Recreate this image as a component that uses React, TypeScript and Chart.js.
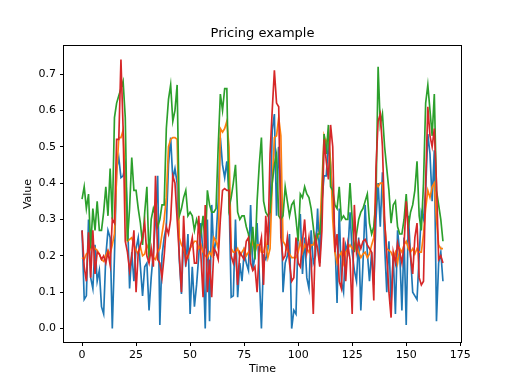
import React, { useEffect, useRef } from "react";
import { Chart, registerables } from "chart.js";

Chart.register(...registerables);

const title = "Pricing example";
const xLabel = "Time";
const yLabel = "Value";
const xTicks = [0, 25, 50, 75, 100, 125, 150, 175];
const yTicks = [0.0, 0.1, 0.2, 0.3, 0.4, 0.5, 0.6, 0.7];

const blue = [
  0.27, 0.08, 0.09, 0.30, 0.14, 0.11, 0.23, 0.13, 0.16, 0.06,
  0.04, 0.20, 0.27, 0.25, 0.00, 0.20, 0.44, 0.47, 0.415, 0.42,
  0.45, 0.31, 0.11, 0.21, 0.13, 0.22, 0.25, 0.17, 0.09, 0.17,
  0.18, 0.05, 0.14, 0.21, 0.30, 0.42, 0.01, 0.20, 0.25, 0.28,
  0.45, 0.525, 0.41, 0.44, 0.40, 0.19, 0.095, 0.25, 0.17, 0.26,
  0.04, 0.17, 0.06, 0.12, 0.20, 0.29, 0.20, 0.00, 0.30, 0.02,
  0.34, 0.20, 0.25, 0.35, 0.525, 0.45, 0.415, 0.46, 0.37, 0.086,
  0.09, 0.30, 0.086, 0.18, 0.13, 0.21, 0.18, 0.16, 0.34, 0.16,
  0.20, 0.29, 0.15, 0.00, 0.20, 0.19, 0.22, 0.30, 0.545, 0.59,
  0.31, 0.50, 0.38, 0.10, 0.18, 0.20, 0.26, 0.00, 0.05, 0.04,
  0.27, 0.315, 0.15, 0.25, 0.14, 0.11, 0.27, 0.18, 0.20, 0.33,
  0.18, 0.35, 0.42, 0.42, 0.51, 0.45, 0.36, 0.25, 0.07, 0.33,
  0.13, 0.10, 0.23, 0.21, 0.32, 0.21, 0.16, 0.13, 0.25, 0.05,
  0.18, 0.34, 0.21, 0.13, 0.21, 0.12, 0.30, 0.40, 0.28, 0.43,
  0.23, 0.10, 0.24, 0.07, 0.20, 0.04, 0.27, 0.21, 0.05, 0.25,
  0.01, 0.31, 0.20, 0.10, 0.09, 0.08, 0.20, 0.32, 0.30, 0.38,
  0.535, 0.48, 0.35, 0.49, 0.02, 0.18, 0.21, 0.13,
];

const orange = [
  0.195, 0.19, 0.205, 0.21, 0.22, 0.23, 0.22, 0.215, 0.205, 0.19,
  0.185, 0.20, 0.215, 0.205, 0.23, 0.26, 0.42, 0.525, 0.525, 0.545,
  0.40, 0.24, 0.245, 0.25, 0.23, 0.215, 0.205, 0.225, 0.20, 0.205,
  0.23, 0.215, 0.205, 0.195, 0.19, 0.21, 0.22, 0.26, 0.30, 0.36,
  0.50, 0.52, 0.525, 0.525, 0.52, 0.25, 0.23, 0.22, 0.20, 0.195,
  0.22, 0.23, 0.24, 0.24, 0.22, 0.23, 0.21, 0.20, 0.195, 0.21,
  0.20, 0.25, 0.24, 0.22, 0.55, 0.54, 0.55, 0.57, 0.50, 0.22,
  0.21, 0.21, 0.22, 0.20, 0.21, 0.22, 0.20, 0.21, 0.22, 0.24,
  0.21, 0.23, 0.23, 0.21, 0.21, 0.24, 0.195, 0.22, 0.40, 0.525,
  0.53, 0.58, 0.53, 0.24, 0.23, 0.215, 0.205, 0.195, 0.195, 0.195,
  0.21, 0.24, 0.21, 0.23, 0.22, 0.21, 0.23, 0.23, 0.25, 0.25,
  0.27, 0.40, 0.53, 0.51, 0.53, 0.46, 0.30, 0.21, 0.18, 0.20,
  0.21, 0.18, 0.21, 0.22, 0.23, 0.22, 0.215, 0.23, 0.21, 0.195,
  0.205, 0.21, 0.195, 0.205, 0.23, 0.25, 0.40, 0.39, 0.40, 0.40,
  0.29, 0.22, 0.215, 0.21, 0.195, 0.21, 0.18, 0.22, 0.21, 0.23,
  0.24, 0.22, 0.21, 0.22, 0.205, 0.22, 0.21, 0.21, 0.26, 0.33,
  0.38, 0.36, 0.39, 0.40, 0.30, 0.23, 0.22, 0.22,
];

const green = [
  0.356, 0.39, 0.33, 0.37, 0.22, 0.33, 0.27, 0.35, 0.27, 0.27,
  0.32, 0.39, 0.31, 0.44, 0.30, 0.58, 0.62, 0.64, 0.66, 0.68,
  0.58, 0.24, 0.33, 0.47, 0.38, 0.38, 0.33, 0.29, 0.23, 0.32,
  0.39, 0.19, 0.30, 0.33, 0.31, 0.28, 0.30, 0.34, 0.34, 0.55,
  0.63, 0.67, 0.57, 0.60, 0.67, 0.31, 0.33, 0.36, 0.38, 0.31,
  0.32, 0.31, 0.27, 0.30, 0.28, 0.26, 0.31, 0.22, 0.38, 0.34,
  0.32, 0.32, 0.33, 0.50, 0.645, 0.60, 0.66, 0.66, 0.33, 0.36,
  0.40, 0.45, 0.32, 0.30, 0.31, 0.31, 0.28, 0.26, 0.21, 0.28,
  0.19, 0.35, 0.45, 0.525, 0.35, 0.32, 0.31, 0.32, 0.40, 0.45,
  0.48, 0.31, 0.30, 0.31, 0.39, 0.35, 0.31, 0.34, 0.35, 0.30,
  0.24, 0.37, 0.36, 0.39, 0.37, 0.36, 0.33, 0.28, 0.22, 0.26,
  0.26, 0.33, 0.535, 0.48, 0.56, 0.39, 0.38, 0.34, 0.33, 0.39,
  0.30, 0.31, 0.30, 0.30, 0.40, 0.30, 0.21, 0.26, 0.30, 0.32,
  0.33, 0.35, 0.37, 0.29, 0.26, 0.28, 0.35, 0.72, 0.56, 0.59,
  0.50, 0.44, 0.38, 0.29, 0.34, 0.35, 0.28, 0.26, 0.26, 0.30,
  0.37, 0.28, 0.32, 0.34, 0.38, 0.46, 0.31, 0.27, 0.40, 0.62,
  0.67, 0.60, 0.53, 0.645, 0.38, 0.34, 0.30, 0.24,
];

const red = [
  0.27, 0.17, 0.13, 0.265, 0.14, 0.27, 0.15, 0.21, 0.205, 0.19,
  0.20, 0.18, 0.21, 0.175, 0.30, 0.29, 0.52, 0.52, 0.74, 0.55,
  0.24, 0.21, 0.16, 0.20, 0.27, 0.10, 0.21, 0.23, 0.25, 0.29,
  0.20, 0.18, 0.22, 0.17, 0.42, 0.19, 0.18, 0.14, 0.20, 0.28,
  0.26, 0.30, 0.42, 0.40, 0.30, 0.20, 0.10, 0.31, 0.18, 0.20,
  0.22, 0.25, 0.18, 0.18, 0.31, 0.20, 0.086, 0.34, 0.10, 0.19,
  0.086, 0.22, 0.21, 0.19, 0.30, 0.38, 0.385, 0.38, 0.38, 0.20,
  0.18, 0.21, 0.12, 0.21, 0.20, 0.19, 0.24, 0.25, 0.18, 0.16,
  0.17, 0.10, 0.22, 0.25, 0.12, 0.31, 0.23, 0.48, 0.60, 0.71,
  0.62, 0.61, 0.25, 0.19, 0.20, 0.25, 0.18, 0.13, 0.14, 0.25,
  0.18, 0.17, 0.24, 0.30, 0.21, 0.25, 0.19, 0.04, 0.25, 0.22,
  0.17, 0.27, 0.52, 0.46, 0.41, 0.56, 0.50, 0.21, 0.26, 0.13,
  0.11, 0.25, 0.13, 0.23, 0.19, 0.04, 0.34, 0.21, 0.24, 0.22,
  0.24, 0.245, 0.23, 0.22, 0.21, 0.077, 0.44, 0.57, 0.59, 0.50,
  0.30, 0.20, 0.10, 0.03, 0.21, 0.18, 0.235, 0.21, 0.18, 0.23,
  0.35, 0.26, 0.20, 0.15, 0.25, 0.29, 0.14, 0.12, 0.13, 0.40,
  0.61, 0.53, 0.50, 0.55, 0.40, 0.19, 0.20, 0.18,
];

const seriesNames = ["blue", "orange", "green", "red"];
const seriesColors = ["#1f77b4", "#ff7f0e", "#2ca02c", "#d62728"];
const seriesValues = [blue, orange, green, red];

const FONT = "'DejaVu Sans', sans-serif";

export default function App() {
  const ref = useRef<HTMLCanvasElement | null>(null);

  useEffect(() => {
    if (!ref.current) return;
    const all = seriesValues.flat();
    const n = blue.length;
    const xMinD = 0;
    const xMaxD = n - 1;
    const xPad = (xMaxD - xMinD) * 0.05;
    const yMinD = Math.min(...all);
    const yMaxD = Math.max(...all);
    const yPad = (yMaxD - yMinD) * 0.05;

    const datasets = seriesValues
      .map((vals, k) => ({
        label: seriesNames[k],
        data: vals.map((v, i) => ({ x: i, y: v })),
        borderColor: seriesColors[k],
        backgroundColor: seriesColors[k],
        borderWidth: 1.67,
        pointRadius: 0,
        tension: 0,
        fill: false,
      }))
      .reverse();

    const framePlugin = {
      id: "frame",
      afterDraw(chart: any) {
        const { ctx, chartArea } = chart;
        const { left, right, top, bottom } = chartArea;
        ctx.save();
        ctx.strokeStyle = "#000";
        ctx.lineWidth = 1;
        ctx.strokeRect(Math.round(left) - 0.5, Math.round(top) - 0.5, Math.round(right - left) + 1, Math.round(bottom - top) + 1);
        ctx.fillStyle = "#000";
        ctx.textAlign = "center";
        ctx.textBaseline = "middle";
        ctx.font = `13px ${FONT}`;
        ctx.fillText(title, (left + right) / 2, 34);
        ctx.font = `11px ${FONT}`;
        ctx.fillText(xLabel, (left + right) / 2, 369);
        ctx.save();
        ctx.translate(28, (top + bottom) / 2);
        ctx.rotate(-Math.PI / 2);
        ctx.fillText(yLabel, 0, 0);
        ctx.restore();
        ctx.restore();
      },
    };

    const chart = new Chart(ref.current, {
      type: "line",
      data: { datasets },
      options: {
        animation: false,
        responsive: false,
        maintainAspectRatio: false,
        layout: { padding: { left: 0, right: 51, top: 46, bottom: 0 } },
        plugins: {
          legend: { display: false },
          title: { display: false },
          tooltip: { enabled: false },
        },
        scales: {
          x: {
            type: "linear",
            min: xMinD - xPad,
            max: xMaxD + xPad,
            afterFit(axis: any) {
              axis.height = 42;
            },
            afterBuildTicks(axis: any) {
              axis.ticks = xTicks.map((v) => ({ value: v }));
            },
            border: { display: false },
            grid: {
              display: true,
              drawOnChartArea: false,
              drawTicks: true,
              tickLength: 4,
              color: "#000",
              lineWidth: 1,
            },
            ticks: {
              color: "#000",
              font: { family: FONT, size: 11 },
              padding: 3,
              maxRotation: 0,
              autoSkip: false,
              callback: (v: any) => String(v),
            },
          },
          y: {
            type: "linear",
            min: yMinD - yPad,
            max: yMaxD + yPad,
            afterFit(axis: any) {
              axis.width = 64;
            },
            afterBuildTicks(axis: any) {
              axis.ticks = yTicks.map((v) => ({ value: v }));
            },
            border: { display: false },
            grid: {
              display: true,
              drawOnChartArea: false,
              drawTicks: true,
              tickLength: 4,
              color: "#000",
              lineWidth: 1,
            },
            ticks: {
              color: "#000",
              font: { family: FONT, size: 11 },
              padding: 4,
              autoSkip: false,
              callback: (v: any) => Number(v).toFixed(1),
            },
          },
        },
      },
      plugins: [framePlugin],
    });
    return () => chart.destroy();
  }, []);

  return (
    <div style={{ position: "absolute", left: 0, top: 0, width: 512, height: 384, background: "#fff" }}>
      <canvas ref={ref} width={512} height={384} />
    </div>
  );
}
